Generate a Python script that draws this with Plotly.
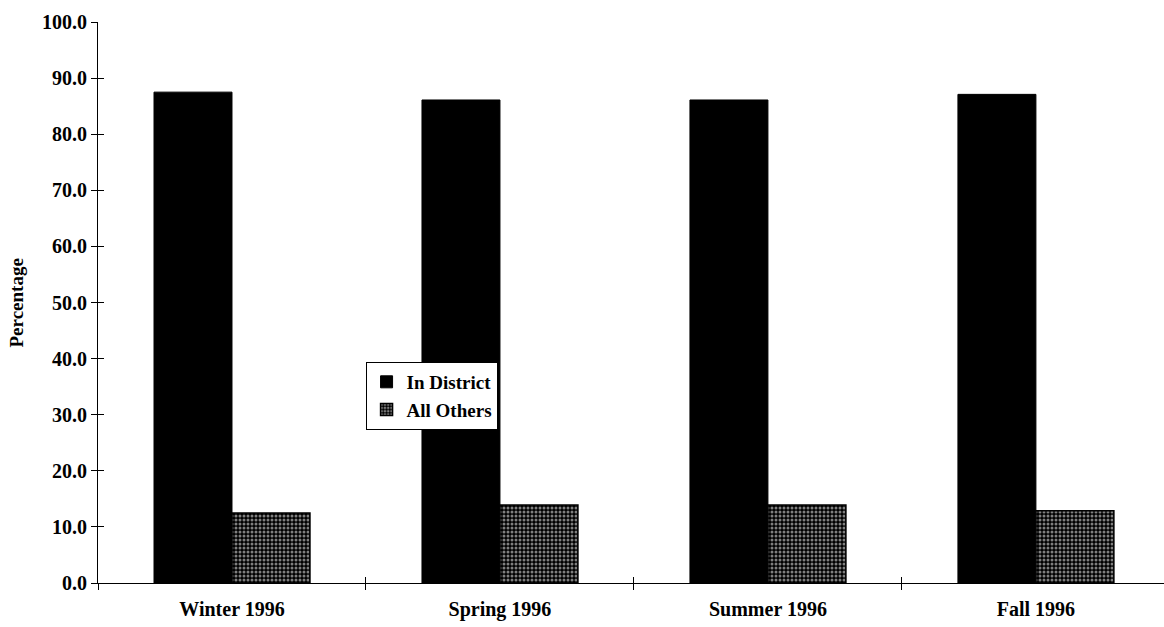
import plotly.graph_objects as go

categories = ["Winter 1996", "Spring 1996", "Summer 1996", "Fall 1996"]
in_district = [87.5, 86.1, 86.1, 87.1]
all_others = [12.5, 13.9, 13.9, 12.9]
y_ticks = [0, 10, 20, 30, 40, 50, 60, 70, 80, 90, 100]
y_tick_labels = ["%.1f" % v for v in y_ticks]

FONT = "Liberation Serif"

fig = go.Figure()
fig.add_trace(go.Bar(
    name="<b>In District</b>", x=categories, y=in_district,
    marker=dict(color="black", line=dict(color="black", width=1)),
))
fig.add_trace(go.Bar(
    name="<b>All Others</b>", x=categories, y=all_others,
    marker=dict(color="white", line=dict(color="black", width=1.5),
                pattern=dict(shape=".", fgcolor="white", bgcolor="black",
                             size=4, solidity=0.45)),
))

xr = [-0.5, 3.478]
fig.update_layout(
    width=1164, height=627,
    margin=dict(l=98, r=0, t=22, b=44),
    paper_bgcolor="white", plot_bgcolor="white",
    barmode="group", bargap=0.418, bargroupgap=0,
    font=dict(family=FONT, color="black", size=20),
    showlegend=True,
    legend=dict(x=0.251, y=0.394, xanchor="left", yanchor="top",
                bordercolor="black", borderwidth=1, bgcolor="white",
                font=dict(family=FONT, size=19, color="black"),
                itemwidth=30, tracegroupgap=4),
    xaxis=dict(type="category", range=xr, showline=True, linecolor="black",
               linewidth=1, ticks="outside", tickson="boundaries", ticklen=6,
               tickcolor="black", showgrid=False, zeroline=False,
               tickvals=categories,
               ticktext=["<b>%s</b>" % c for c in categories],
               ticklabelstandoff=8,
               tickfont=dict(family=FONT, size=20, color="black"),
               fixedrange=True),
    xaxis2=dict(overlaying="x", range=xr, showline=False, ticks="inside",
                tickvals=[0.5, 1.5, 2.5], ticklen=6, tickcolor="black",
                showticklabels=False, showgrid=False, zeroline=False,
                anchor="y"),
    yaxis=dict(range=[0, 100], tickvals=y_ticks,
               ticktext=["<b>%s</b>" % t for t in y_tick_labels],
               showline=True, linecolor="black", linewidth=1, ticks="outside",
               ticklen=6, tickcolor="black", showgrid=False, zeroline=False,
               tickfont=dict(family=FONT, size=20, color="black")),
    yaxis2=dict(overlaying="y", range=[0, 100], tickvals=y_ticks,
                ticks="inside", ticklen=6, tickcolor="black",
                showticklabels=False, showgrid=False, zeroline=False,
                showline=False, anchor="x"),
    annotations=[dict(text="<b>Percentage</b>", xref="paper", yref="paper",
                      x=-0.076, y=0.5, xanchor="center", yanchor="middle",
                      textangle=-90, showarrow=False,
                      font=dict(family=FONT, size=19, color="black"))],
)
# invisible trace to bind overlay axes
fig.add_trace(go.Scatter(x=[0], y=[0], xaxis="x2", yaxis="y2", mode="markers",
                         marker=dict(opacity=0), showlegend=False,
                         hoverinfo="skip"))

fig.write_html("out.html", config={"displayModeBar": False},
               post_script="document.body.style.margin='0';")
